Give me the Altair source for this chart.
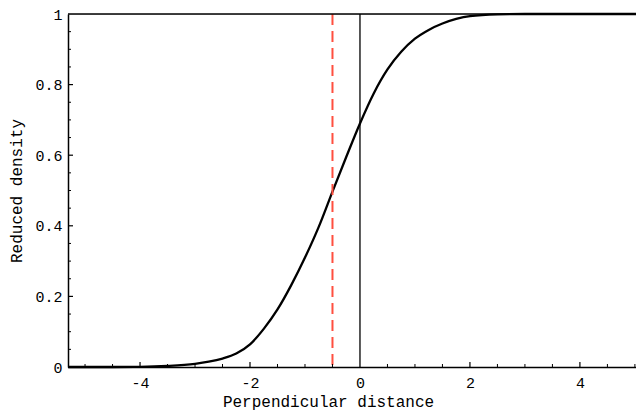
import altair as alt
import pandas as pd

# Curve values
curve_x = [-5.31, -4.5, -4.0, -3.5, -3.0, -2.75, -2.5, -2.25, -2.0, -1.75, -1.5, -1.25, -1.0, -0.75,
           -0.5, -0.25, 0.0, 0.25, 0.5, 0.75, 1.0, 1.25, 1.5, 1.75, 2.0, 2.5, 3.0, 4.0, 5.02]
curve_y = [0.0, 0.0, 0.0005, 0.003, 0.009, 0.015, 0.024, 0.038, 0.064, 0.108, 0.163, 0.232, 0.31, 0.397,
           0.497, 0.595, 0.69, 0.775, 0.843, 0.893, 0.93, 0.955, 0.973, 0.986, 0.994, 0.999, 1.0, 1.0, 1.0]

x_ticks = [-4, -2, 0, 2, 4]
y_ticks = [0, 0.2, 0.4, 0.6, 0.8, 1]
x_minor = [-5, -4.5, -3.5, -3, -2.5, -1.5, -1, -0.5, 0.5, 1, 1.5, 2.5, 3, 3.5, 4.5, 5]
x_major_marks = [-4, -2, 2, 4]
y_major_marks = [0.2, 0.4, 0.6, 0.8]
y_minor = [0.05, 0.1, 0.15, 0.25, 0.3, 0.35, 0.45, 0.5, 0.55, 0.65, 0.7, 0.75, 0.85, 0.9, 0.95]

zero_line = [0.0]
dashed_line = [-0.5]
top_frame = [1.0]

W, H = 568, 353
FONT = "Liberation Mono"
xdom = [-5.31, 5.02]

xs = alt.Scale(domain=xdom, nice=False, zero=False)
ys = alt.Scale(domain=[0, 1], nice=False, zero=False)

x_axis = alt.Axis(
    title="Perpendicular distance", values=x_ticks, ticks=False, tickSize=0, grid=False,
    labelExpr="datum.value + ''", labelPadding=20, labelBaseline="alphabetic",
    labelFontSize=15, titleFontSize=16, titleX=260, titleY=39, titleBaseline="alphabetic",
    domainColor="black", domainWidth=1.5, labelColor="black", titleColor="black",
    labelFont=FONT, titleFont=FONT, titleFontWeight="normal")
y_axis = alt.Axis(
    title="Reduced density", values=y_ticks, ticks=False, tickSize=0, grid=False,
    labelExpr="datum.value == 0 ? '0' : datum.value == 1 ? '1' : format(datum.value, '.1f')",
    labelPadding=6, labelFontSize=15, titleFontSize=16, titleX=-52, titleY=H / 2,
    titleAngle=270, titleBaseline="middle", titleAlign="center",
    domainColor="black", domainWidth=1.5, labelColor="black", titleColor="black",
    labelFont=FONT, titleFont=FONT, titleFontWeight="normal")

X = lambda: alt.X("x:Q", scale=xs, axis=x_axis)
Y = lambda: alt.Y("y:Q", scale=ys, axis=y_axis)

curve_df = pd.DataFrame({"x": curve_x, "y": curve_y})

main = alt.Chart(curve_df).mark_line(color="black", strokeWidth=2.3, interpolate="monotone").encode(
    x=X(), y=Y())

vline0 = alt.Chart(pd.DataFrame({"x": zero_line})).mark_rule(color="black", strokeWidth=1.3).encode(x=X())
vdash = alt.Chart(pd.DataFrame({"x": dashed_line})).mark_rule(
    color="#ff4f3f", strokeWidth=2, strokeDash=[11, 6]).encode(x=X())
topf = alt.Chart(pd.DataFrame({"y": top_frame})).mark_rule(color="black", strokeWidth=1.5).encode(y=Y())

xmaj = alt.Chart(pd.DataFrame({"x": x_major_marks})).mark_rule(color="black", strokeWidth=1.2).encode(
    x=X(), y=alt.value(H), y2=alt.value(H - 5))
xmin = alt.Chart(pd.DataFrame({"x": x_minor})).mark_rule(color="black", strokeWidth=1).encode(
    x=X(), y=alt.value(H), y2=alt.value(H - 3))
ymaj = alt.Chart(pd.DataFrame({"y": y_major_marks})).mark_rule(color="black", strokeWidth=1.2).encode(
    y=Y(), x=alt.value(0), x2=alt.value(5))
ymin = alt.Chart(pd.DataFrame({"y": y_minor})).mark_rule(color="black", strokeWidth=1).encode(
    y=Y(), x=alt.value(0), x2=alt.value(3))

chart = alt.layer(main, vline0, vdash, topf, xmaj, xmin, ymaj, ymin).properties(
    width=W, height=H, autosize="none",
    padding={"left": 60, "top": 6, "right": 0, "bottom": 44},
).configure_view(stroke=None).configure(background="white")

chart.save("out.html", embed_options={"renderer": "svg", "actions": False})
